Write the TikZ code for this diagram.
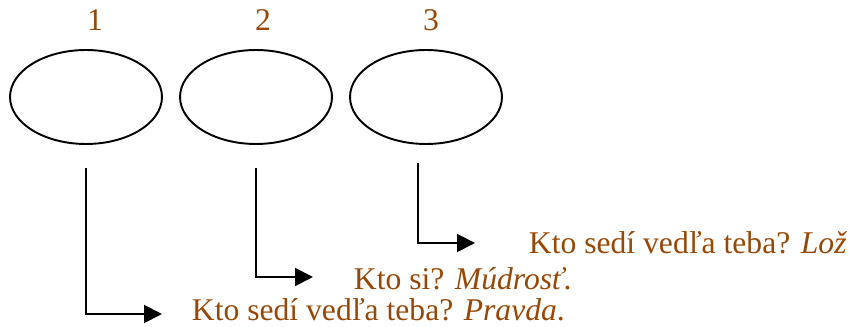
\documentclass[tikz,border=0pt]{standalone}
\usepackage{fontspec}
\setmainfont{Liberation Serif}
\usetikzlibrary{arrows.meta,shapes.geometric}
\definecolor{answer}{RGB}{152,72,6}

\begin{document}
\begin{tikzpicture}[x=0.02cm,y=-0.02cm,line width=1.1pt,-{Triangle[length=0.36cm,width=0.36cm]}]
\useasboundingbox (0,0) rectangle (849,327);
\tikzset{seat/.style={draw,ellipse,minimum width=3.04cm,minimum height=1.88cm,inner sep=0pt},
  num/.style={text=answer,font=\fontsize{18}{20}\selectfont,anchor=base},
  reply/.style={text=answer,font=\fontsize{18}{20}\selectfont,anchor=base west,inner sep=0pt}}

\draw[-] (86,97) node[seat](E1) {};
\draw[-] (256,97) node[seat](E2) {};
\draw[-] (426,97) node[seat](E3) {};

\node[num] (N1) at (95,31) {1};
\node[num] (N2) at (263,31) {2};
\node[num] (N3) at (431,31) {3};

\node[reply] (T1) at (528,254) {Kto sedí vedľa teba? \textit{Lož}};
\node[reply] (T2) at (353,290) {Kto si? \textit{Múdrosť}.};
\node[reply] (T3) at (191,321) {Kto sedí vedľa teba? \textit{Pravda}.};

\coordinate (S1) at (86,168);
\coordinate (S2) at (256,168);
\coordinate (S3) at (418,163);
\coordinate (A1) at (162,314);
\coordinate (A2) at (313,277);
\coordinate (A3) at (475,243);

\draw (S1) |- (A1);
\draw (S2) |- (A2);
\draw (S3) |- (A3);

\end{tikzpicture}
\end{document}
